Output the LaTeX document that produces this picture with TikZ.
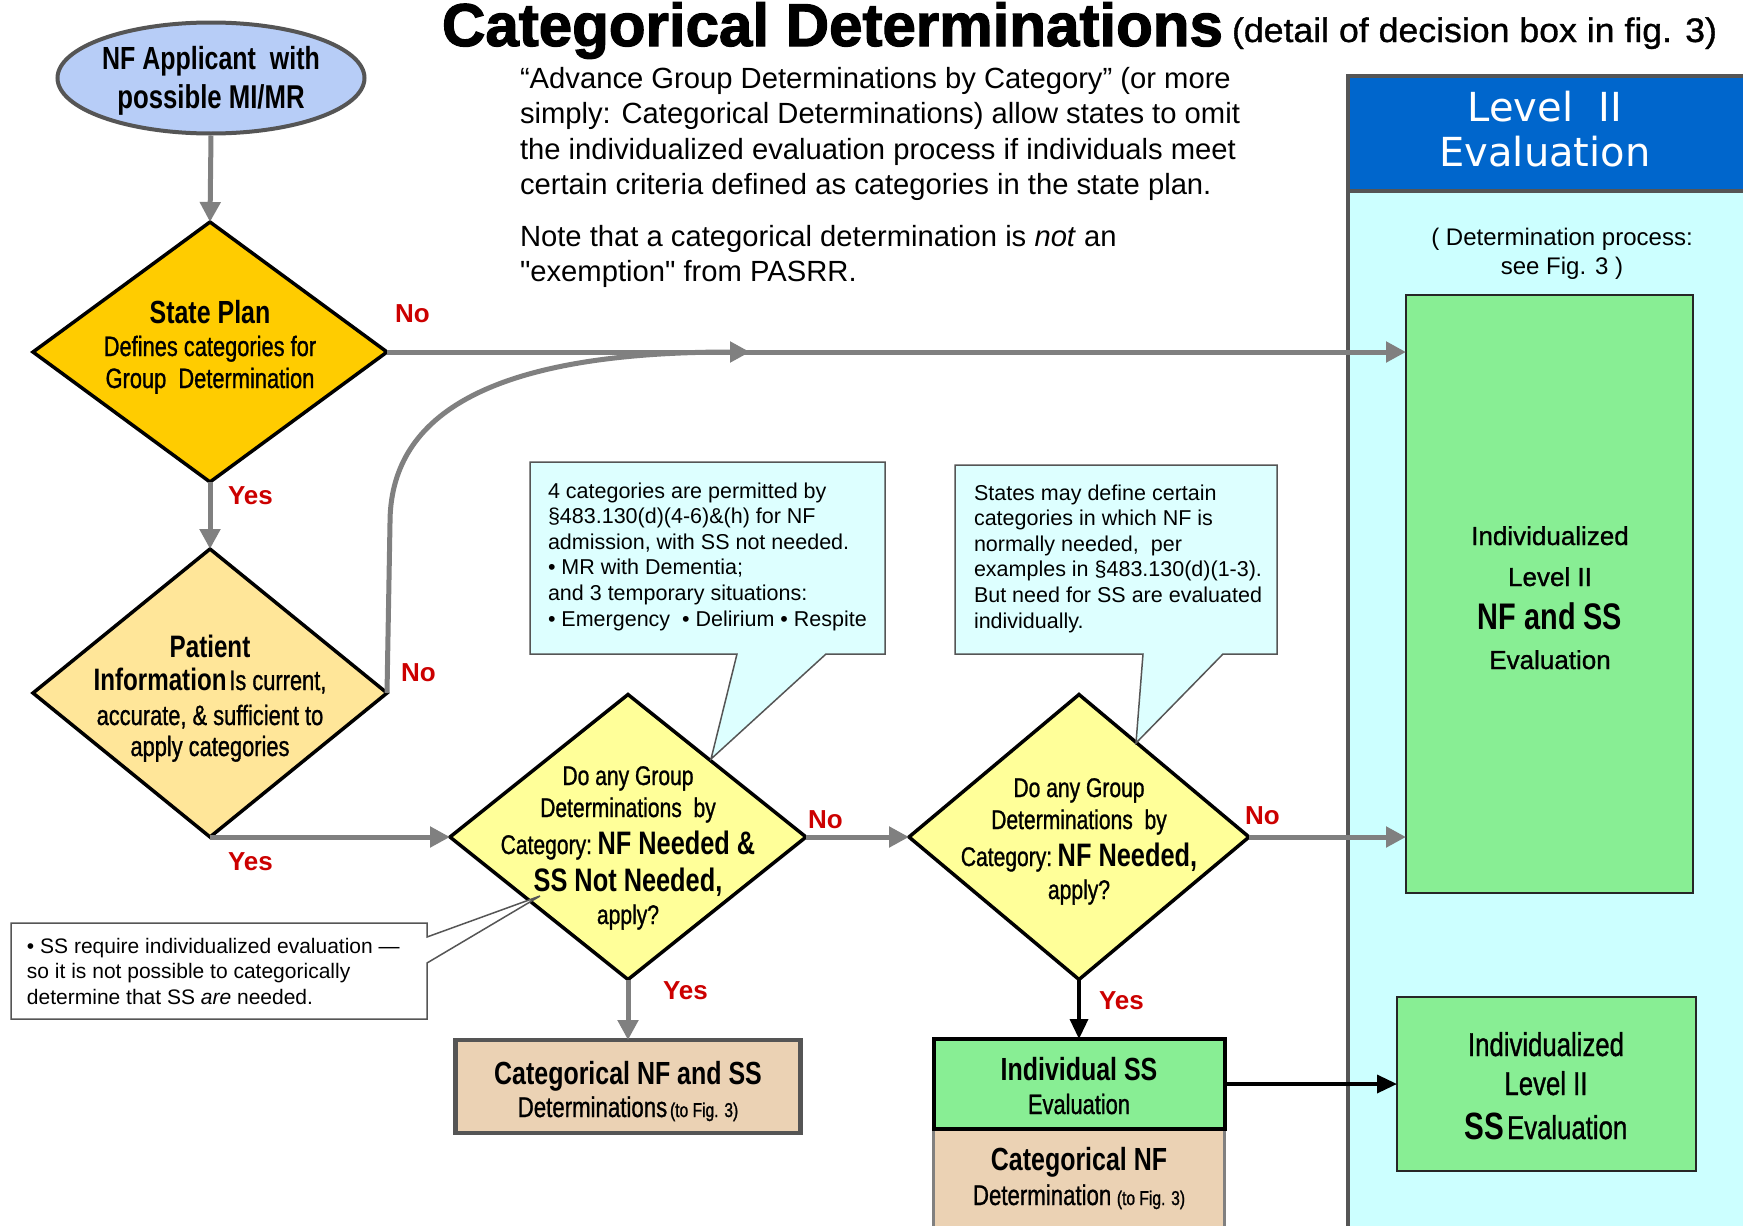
\documentclass[tikz,border=0pt]{standalone}
\usepackage{fontspec}
\usepackage{graphicx}
\setmainfont{Liberation Sans}[Ligatures=TeXOff]
\newfontfamily\cnd[FakeStretch=0.78]{Liberation Sans}
\newfontfamily\cndm[FakeStretch=0.78,FakeBold=1]{Liberation Sans}
\newfontfamily\medw[FakeBold=1]{Liberation Sans}
\newfontfamily\heavy[FakeBold=2]{Liberation Sans}
\newfontfamily\dvs{DejaVu Sans}
\usetikzlibrary{arrows.meta,shapes.geometric}
\definecolor{agray}{HTML}{808080}
\definecolor{ynred}{HTML}{CC0000}
\definecolor{ellfill}{HTML}{B7CDF7}
\definecolor{gold}{HTML}{FFCC00}
\definecolor{paleorange}{HTML}{FFE699}
\definecolor{paleyellow}{HTML}{FFFF99}
\definecolor{callfill}{HTML}{DDFFFF}
\definecolor{tanfill}{HTML}{EBD2B4}
\definecolor{lgreen}{HTML}{88EE94}
\definecolor{hblue}{HTML}{0066CC}
\definecolor{pcyan}{HTML}{CCFFFF}
\definecolor{dgray}{HTML}{555555}
\newcommand\fsz[1]{\fontsize{#1}{#1}\selectfont}
\begin{document}
\begin{tikzpicture}[x=1pt,y=-1pt,
  garrow/.style={draw=agray, line width=5pt, -{Triangle[length=20pt,width=20pt]}},
  barrow/.style={draw=black, line width=3.5pt, -{Triangle[length=20pt,width=18pt]}},
  dia/.style={diamond, draw=black, line width=3.5pt, inner sep=0pt, outer sep=0pt},
  box/.style={rectangle, inner sep=0pt, outer sep=0pt},
  tx/.style={anchor=base, inner sep=0pt, outer sep=0pt},
  txl/.style={anchor=base west, inner sep=0pt, outer sep=0pt},
  yn/.style={txl, text=ynred, font=\bfseries\fsz{26}},
  call/.style={fill=callfill, draw=dgray, line width=1.5pt, line join=miter},
  bigb/.style={font=\cnd\bfseries\fsz{32}},
  med/.style={font=\cndm\fsz{28}},
]
\useasboundingbox (0,0) rectangle (1743,1226);
\clip (0,0) rectangle (1743,1226);
\fill[white] (0,0) rectangle (1743,1226);

% ---- Level II panel
\node[box, anchor=north west, fill=pcyan, draw=dgray, line width=4pt, minimum width=420pt, minimum height=1170pt] (panel) at (1348,76) {};
\node[box, anchor=north west, fill=hblue, draw=dgray, line width=4pt, minimum width=420pt, minimum height=115pt] (header) at (1348,76) {};
\node[tx, font=\dvs\fsz{40}, text=white] (h1) at (1545,121) {Level\ \ II};
\node[tx, font=\dvs\fsz{40}, text=white] (h2) at (1545,166) {Evaluation};
\node[tx, font=\fsz{24}] (dp1) at (1562,245) {( Determination process:};
\node[tx, font=\fsz{24}] (dp2) at (1562,274) {see Fig. 3 )};

\node[box, fill=lgreen, draw=black!85, line width=1.5pt, minimum width=287pt, minimum height=598pt] (g1) at (1549.5,594) {};
\node[tx, font=\medw\fsz{26}] (g1a) at (1550,545) {Individualized};
\node[tx, font=\medw\fsz{26}] (g1b) at (1550,586) {Level II};
\node[tx, font=\cnd\bfseries\fsz{37}] (g1c) at (1550,629) {NF and SS};
\node[tx, font=\medw\fsz{26}] (g1d) at (1550,669) {Evaluation};

\node[box, fill=lgreen, draw=black!85, line width=1.5pt, minimum width=299pt, minimum height=174pt] (g2) at (1546.5,1084) {};
\node[tx, font=\cndm\fsz{33}] (g2a) at (1546,1056) {Individualized};
\node[tx, font=\cndm\fsz{33}] (g2b) at (1546,1095) {Level II};
\node[tx] (g2c) at (1546,1139) {{\cnd\bfseries\fsz{38}SS} {\cndm\fsz{33}Evaluation}};

% ---- title and description
\node[txl] (title) at (442,46) {\resizebox{781pt}{\height}{\heavy\bfseries\fsz{60.5}Categorical Determinations}};
\node[txl] (subtitle) at (1232,42) {\resizebox{485pt}{\height}{\medw\fsz{34}(detail of decision box in fig. 3)}};
\foreach \t [count=\i] in {{“Advance Group Determinations by Category” (or more},
  {simply: Categorical Determinations) allow states to omit},
  {the individualized evaluation process if individuals meet},
  {certain criteria defined as categories in the state plan.}}
  \node[txl, font=\fsz{29.2}] (p\i) at (520,{88+35.5*(\i-1)}) {\t};
\node[txl, font=\fsz{29.2}] (p5) at (520,246) {Note that a categorical determination is \textit{not} an};
\node[txl, font=\fsz{29.2}] (p6) at (520,281) {"exemption" from PASRR.};

% ---- flow shapes
\node[ellipse, draw=dgray, line width=4pt, fill=ellfill, minimum width=307pt, minimum height=111pt, inner sep=0pt] (e1) at (211,78) {};
\node[tx, font=\cnd\bfseries\fsz{32}] (e1a) at (211,69) {NF Applicant\ \ with};
\node[tx, font=\cnd\bfseries\fsz{33}] (e1b) at (211,108) {possible MI/MR};

\node[dia, fill=gold, minimum width=354pt, minimum height=260pt] (d1) at (210,352) {};
\node[tx, bigb] (d1a) at (210,323) {State Plan};
\node[tx, med] (d1b) at (210,356) {Defines categories for};
\node[tx, med] (d1c) at (210,388) {Group\ \ Determination};

\node[dia, fill=paleorange, minimum width=354pt, minimum height=288pt] (d2) at (210,693) {};
\node[tx, font=\cnd\bfseries\fsz{31}] (d2a) at (210,657) {Patient};
\node[tx] (d2b) at (210,690) {{\cnd\bfseries\fsz{31}Information} {\cndm\fsz{28}Is current,}};
\node[tx, med] (d2c) at (210,725) {accurate, \& sufficient to};
\node[tx, med] (d2d) at (210,756) {apply categories};

\node[dia, fill=paleyellow, minimum width=356pt, minimum height=285pt] (d3) at (628,837) {};
\node[tx, font=\cndm\fsz{27}] (d3a) at (628,785) {Do any Group};
\node[tx, font=\cndm\fsz{27}] (d3b) at (628,817) {Determinations\ \ by};
\node[tx] (d3c) at (628,854) {{\cndm\fsz{27}Category:}\ \ {\cnd\bfseries\fsz{32.5}NF Needed \&}};
\node[tx, font=\cnd\bfseries\fsz{32.5}] (d3d) at (628,891) {SS Not Needed,};
\node[tx, font=\cndm\fsz{27}] (d3e) at (628,924) {apply?};

\node[dia, fill=paleyellow, minimum width=340pt, minimum height=285pt] (d4) at (1079,837) {};
\node[tx, font=\cndm\fsz{27}] (d4a) at (1079,797) {Do any Group};
\node[tx, font=\cndm\fsz{27}] (d4b) at (1079,829) {Determinations\ \ by};
\node[tx] (d4c) at (1079,866) {{\cndm\fsz{27}Category:}\ \ {\cnd\bfseries\fsz{32.5}NF Needed,}};
\node[tx, font=\cndm\fsz{27}] (d4d) at (1079,899) {apply?};

\node[box, fill=tanfill, draw=dgray, line width=4.5pt, minimum width=345pt, minimum height=93pt] (b1) at (628,1086.5) {};
\node[tx, bigb] (b1a) at (628,1084) {Categorical NF and SS};
\node[tx] (b1b) at (628,1117) {{\cndm\fsz{28.5}Determinations} {\cndm\fsz{20}(to Fig. 3)}};

\node[box, fill=tanfill, draw=agray, line width=2.5pt, minimum width=291pt, minimum height=104pt] (b3) at (1079,1181) {};
\node[tx, bigb] (b3a) at (1079,1170) {Categorical NF};
\node[tx] (b3b) at (1079,1205) {{\cndm\fsz{28.5}Determination}\ \ {\cndm\fsz{20}(to Fig. 3)}};
\node[box, fill=lgreen, draw=black, line width=4pt, minimum width=291pt, minimum height=90pt] (b2) at (1079,1084) {};
\node[tx, bigb] (b2a) at (1079,1080) {Individual SS};
\node[tx, med] (b2b) at (1079,1114) {Evaluation};

% ---- connectors
\coordinate (merge) at (750,352);
\draw[garrow] (e1.south) -- (d1.north);
\draw[garrow] (d1.east) -- (d1.east -| g1.west);
\draw[garrow] (d1.south) -- (d2.north);
\draw[garrow] (d2.east) -- (390,523) .. controls (390,420) and (480,352) .. (merge);
\draw[garrow] (d2.south) -- (d3.west);
\draw[garrow] (d3.east) -- (d4.west);
\draw[garrow] (d4.east) -- (d4.east -| g1.west);
\draw[garrow] (d3.south) -- (b1.north);
\draw[barrow] (d4.south) -- (b2.north);
\draw[barrow] (b2.east) -- (g2.west);

\node[yn] (no1) at (395,322) {No};
\node[yn] (yes1) at (228,504) {Yes};
\node[yn] (no2) at (401,681) {No};
\node[yn] (yes2) at (228,870) {Yes};
\node[yn] (no3) at (808,828) {No};
\node[yn] (yes3) at (663,999) {Yes};
\node[yn] (no4) at (1245,824) {No};
\node[yn] (yes4) at (1099,1009) {Yes};

% ---- callouts
\draw[call] (530,462) -- (885,462) -- (885,654) -- (826,654) -- (711,759) -- (737,654) -- (530,654) -- cycle;
\foreach \t [count=\i] in {{4 categories are permitted by},
  {§483.130(d)(4-6)\&(h) for NF},
  {admission, with SS not needed.},
  {• MR with Dementia;},
  {and 3 temporary situations:},
  {• Emergency\ \ • Delirium • Respite}}
  \node[txl, font=\fsz{21.5}] (ca\i) at (548,{498+25.6*(\i-1)}) {\t};

\draw[call] (955,465) -- (1277,465) -- (1277,654) -- (1223,654) -- (1136,743) -- (1143,654) -- (955,654) -- cycle;
\foreach \t [count=\i] in {{States may define certain},
  {categories in which NF is},
  {normally needed,\ \ per},
  {examples in §483.130(d)(1-3).},
  {But need for SS are evaluated},
  {individually.}}
  \node[txl, font=\fsz{21.5}] (cb\i) at (974,{500+25.6*(\i-1)}) {\t};

\draw[call, fill=white] (11,923) -- (427,923) -- (427,937) -- (540,896) -- (427,963) -- (427,1019) -- (11,1019) -- cycle;
\node[txl, font=\fsz{21}] (cc1) at (27,953) {• SS require individualized evaluation —};
\node[txl, font=\fsz{21}] (cc2) at (27,978) {so it is not possible to categorically};
\node[txl, font=\fsz{21}] (cc3) at (27,1004) {determine that SS \textit{are} needed.};
\end{tikzpicture}
\end{document}
